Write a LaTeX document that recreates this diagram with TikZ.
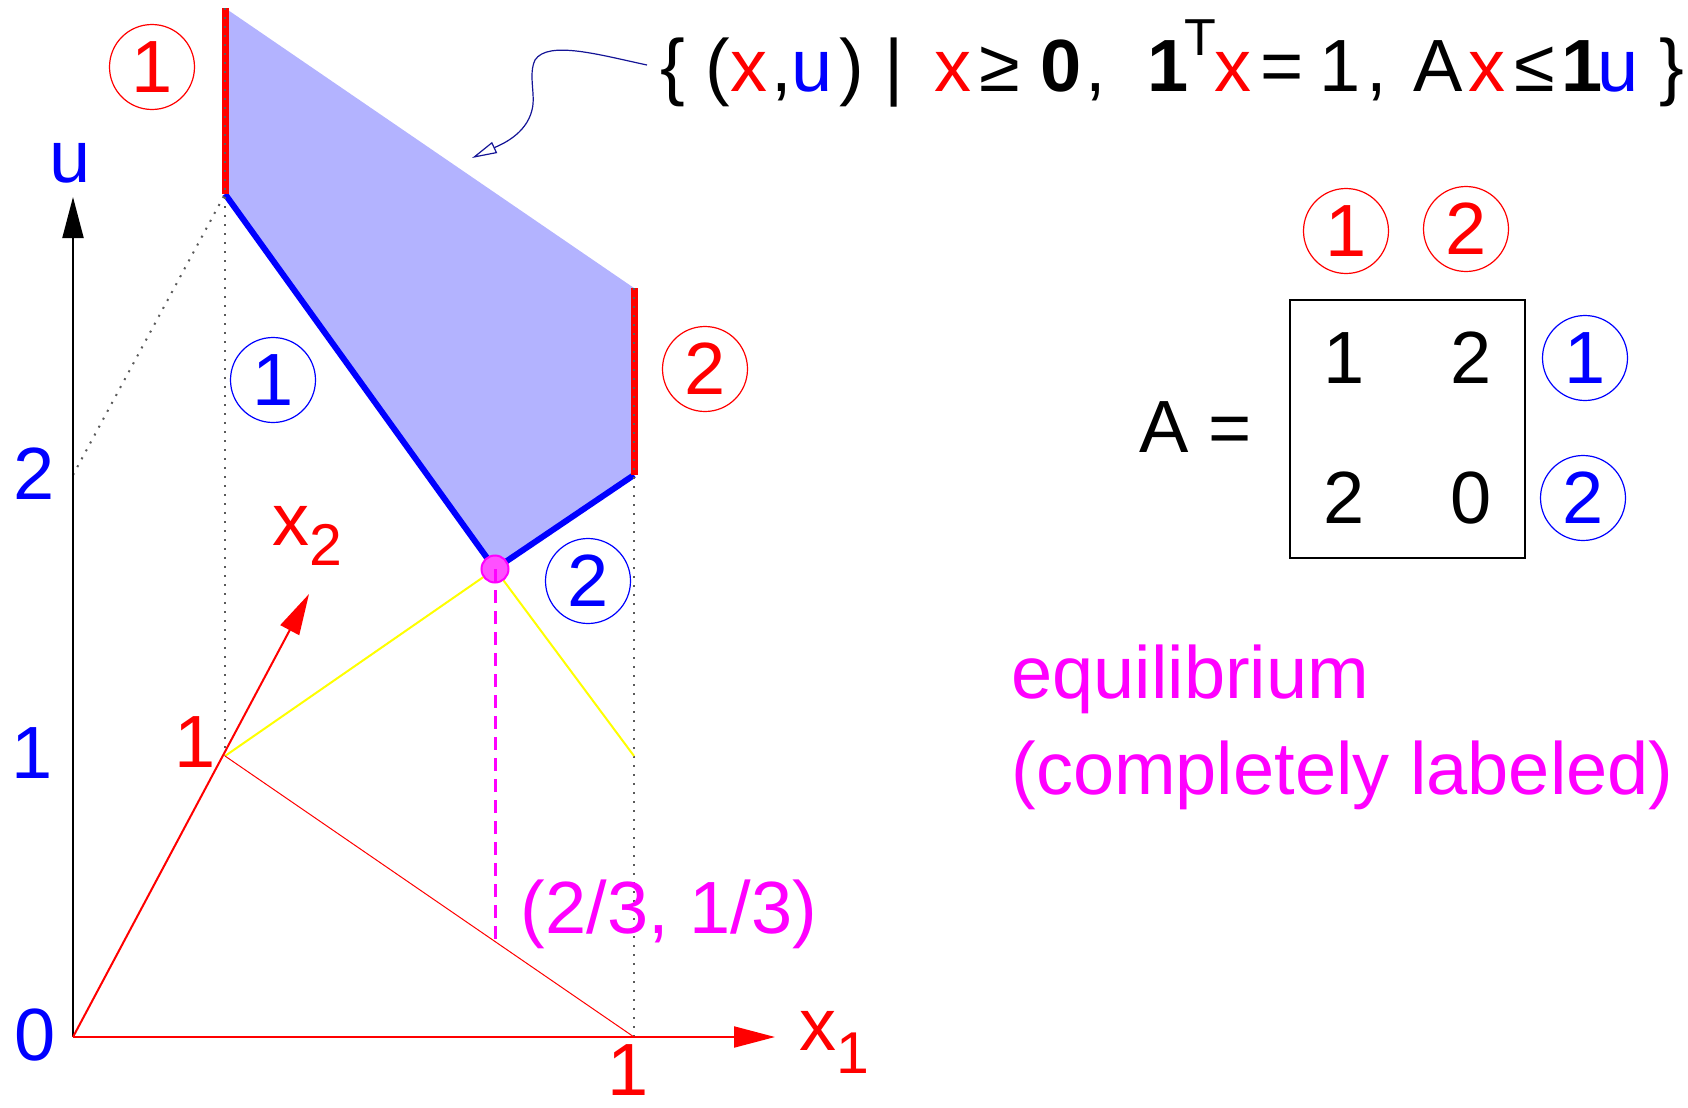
\documentclass[tikz,border=0pt]{standalone}
\usepackage{fontspec}
\setmainfont{Liberation Sans}
\usetikzlibrary{arrows.meta}
\definecolor{polyfill}{RGB}{179,179,255}
\definecolor{navyline}{RGB}{20,20,150}
\definecolor{dotgray}{RGB}{90,90,90}
\definecolor{mag}{RGB}{255,0,255}
\definecolor{magentadot}{RGB}{255,80,255}
\definecolor{yel}{RGB}{255,255,0}
\newcommand\bigfnt{\fontsize{37pt}{44pt}\selectfont}
\newcommand\subfnt{\fontsize{29.5pt}{34pt}\selectfont}
\begin{document}
\begin{tikzpicture}[x=0.5pt,y=-0.5pt,
  lbl/.style={inner sep=0pt, font=\bigfnt},
  circnum/.style={circle, draw, line width=0.6pt, minimum size=42.5pt, inner sep=0pt, font=\bigfnt},
  guide/.style={dotgray, line width=1pt, dash pattern=on 1pt off 3.5pt},
  axisarrow/.style={line width=1pt, -{Triangle[length=20.5pt,width=10.5pt]}},
  thickblue/.style={blue, line width=3pt},
  thickred/.style={red, line width=3.5pt}]
\useasboundingbox (0,0) rectangle (1688,1108);
% key points
\coordinate (O) at (73,1037);
\coordinate (E1) at (634,1037);
\coordinate (E2) at (225,756);
\coordinate (X1tip) at (775,1037);
\coordinate (X2tip) at (309,594);
\coordinate (Utip) at (73,197);
\coordinate (U2) at (73,475);
\coordinate (P1) at (225,194);
\coordinate (P1top) at (225,8);
\coordinate (P2) at (634,475);
\coordinate (P2top) at (634,288);
\coordinate (Eq) at (495,569);
\coordinate (EqBase) at (495,943);
\coordinate (Y2) at (634,756);
% polytope
\fill[polyfill] (P1top) -- (P2top) -- (P2) -- (Eq) -- (P1) -- cycle;
\draw[thickblue] (P1) -- (Eq) -- (P2);
\draw[thickred] (P1top) -- (P1);
\draw[thickred] (P2top) -- (P2);
% guides
\draw[guide] (P1top) -- (E2);
\draw[guide] (P2top) -- (E1);
\draw[guide] (U2) -- (P1);
% yellow and simplex
\draw[yel, line width=1pt] (E2) -- (Eq) -- (Y2);
\draw[red, line width=0.5pt] (E2) -- (E1);
% axes
\draw[axisarrow] (O) -- (Utip);
\draw[axisarrow, red] (O) -- (X1tip);
\draw[axisarrow, red] (O) -- (X2tip);
% equilibrium
\node[circle, fill=magentadot, draw=mag, line width=1pt, minimum size=13.5pt, inner sep=0pt] (eqdot) at (Eq) {};
\draw[mag, line width=1.5pt, dash pattern=on 6.5pt off 4pt] (Eq) -- (EqBase);
% circled numbers
\node[circnum, red] (r1) at (152,67) {1};
\node[circnum, blue] (b1) at (273,380) {1};
\node[circnum, red] (r2) at (705,369) {2};
\node[circnum, blue] (b2) at (588,581) {2};
\node[circnum, red] (mr1) at (1346,231) {1};
\node[circnum, red] (mr2) at (1466,229) {2};
\node[circnum, blue] (mb1) at (1585,358) {1};
\node[circnum, blue] (mb2) at (1583,498) {2};
% axis labels
\node[lbl, blue] (u0) at (35,1035) {0};
\node[lbl, blue] (u1) at (32,753) {1};
\node[lbl, blue] (u2) at (34,474) {2};
\node[lbl, blue] (ulab) at (70,163) {u};
\node[lbl, red] (x2one) at (195,742) {1};
\node[lbl, red] (x1one) at (628,1070) {1};
\node[lbl, red, anchor=base west] (x2lab) at (272,545) {x\raisebox{-10pt}{\subfnt 2}};
\node[lbl, red, anchor=base west] (x1lab) at (799,1050) {x\raisebox{-11.5pt}{\subfnt 1}};
% texts
\node[lbl, mag, anchor=base] (eqcoord) at (669,933) {(2/3, 1/3)};
\node[lbl, mag, anchor=base west] (eqtxt) at (1011,698) {equilibrium};
\node[lbl, mag, anchor=base west] (eqtxt2) at (1011,794) {(completely labeled)};
% matrix
\node[lbl] (Alab) at (1164,427) {A};
\node[lbl] (eqsign) at (1230,435) {=};
\node[draw, line width=1pt, minimum width=117.5pt, minimum height=129pt, inner sep=0pt] (Abox) at (1407.5,429) {};
\node[lbl] (a11) at (1344,358) {1};
\node[lbl] (a12) at (1471,358) {2};
\node[lbl] (a21) at (1344,498) {2};
\node[lbl] (a22) at (1471,498) {0};
% set definition
\node[lbl, anchor=base west] (setdef) at (660,91) {\textbraceleft\ (\textcolor{red}{x}\kern2pt,\textcolor{blue}{u}\kern3pt)\ |\kern5pt\ \textcolor{red}{x}\kern4pt≥\ \textbf{0}\kern2pt,\ \ \textbf{1}\kern-2pt\raisebox{18pt}{\fontsize{26pt}{30pt}\selectfont T}\kern-0.5pt\textcolor{red}{x}\kern4.5pt=\kern7.5pt1\kern3pt,\kern3pt\ A\kern3pt\textcolor{red}{x}\kern4.5pt≤\kern3pt\textbf{1}\kern-2.5pt\textcolor{blue}{u}\ \textbraceright};
\coordinate (calloutStart) at (647,65);
\coordinate (calloutEnd) at (472,158);
\draw[navyline, line width=0.6pt, -{Triangle[open, length=12.5pt, width=6pt]}] (calloutStart) .. controls (600,55) and (548,40) .. (535,60) .. controls (528,75) and (536,95) .. (532,110) .. controls (526,135) and (500,145) .. (calloutEnd);
\end{tikzpicture}
\end{document}
